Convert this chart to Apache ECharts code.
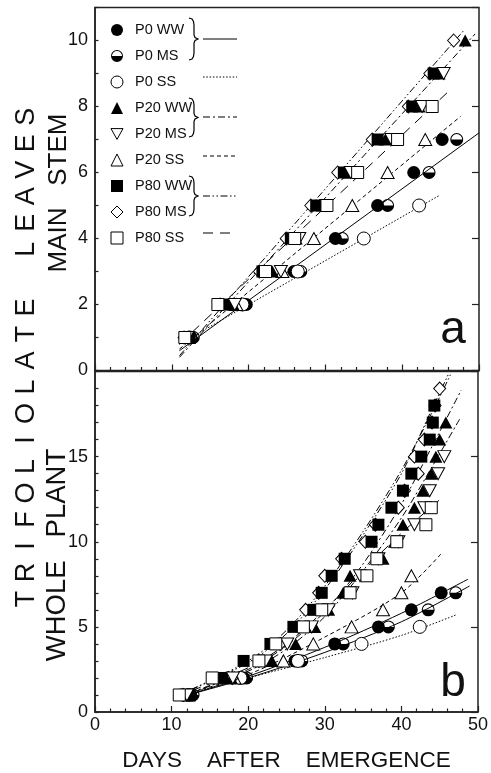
<!DOCTYPE html>
<html>
<head>
<meta charset="utf-8">
<title>Trifoliolate leaves</title>
<script src="https://cdn.jsdelivr.net/npm/echarts@6/dist/echarts.min.js"></script>
<style>
  html, body { margin: 0; padding: 0; background: #fff; }
  #chart { width: 491px; height: 773px; }
</style>
</head>
<body>
<div id="chart"></div>
<script>
// treatments, in legend order
var names = ['P0 WW', 'P0 MS', 'P0 SS', 'P20 WW', 'P20 MS', 'P20 SS', 'P80 WW', 'P80 MS', 'P80 SS'];

// axis ticks
var dayTicks = [0, 10, 20, 30, 40, 50];
var stemTicks = [0, 2, 4, 6, 8, 10];
var plantTicks = [0, 5, 10, 15];

// panel a: main stem leaves, [day, leaves]
var aP0WW = [[12.5,1],[19.7,2],[25.9,3],[31.3,4],[36.8,5],[41.5,6],[45.2,7]];
var aP0MS = [[12.8,1],[19.4,2],[26.8,3],[32.2,4],[38.1,5],[43.5,6],[47.1,7]];
var aP0SS = [[12.3,1],[19.2,2],[26.4,3],[35.0,4],[42.2,5]];
var aP20WW = [[12.0,1],[18.0,2],[23.1,3],[26.2,4],[29.6,5],[33.0,6],[37.8,7],[42.2,8],[44.8,9],[48.2,10]];
var aP20MS = [[12.0,1],[18.2,2],[24.2,3],[26.6,4],[30.1,5],[33.3,6],[38.6,7],[42.6,8],[45.4,9]];
var aP20SS = [[12.2,1],[18.4,2],[24.4,3],[28.5,4],[33.5,5],[38.1,6],[43.0,7]];
var aP80WW = [[12.3,1],[17.5,2],[21.8,3],[25.5,4],[28.8,5],[32.4,6],[36.8,7],[41.3,8],[44.1,9]];
var aP80MS = [[11.6,1],[16.3,2],[21.4,3],[24.9,4],[28.1,5],[31.6,6],[36.1,7],[40.8,8],[43.6,9],[46.7,10]];
var aP80SS = [[11.7,1],[16.0,2],[22.2,3],[26.0,4],[30.2,5],[34.2,6],[39.4,7],[43.9,8]];

// panel a fitted lines
var aFitP0 = [[11,0.6],[50,7.2]];
var aFitP0SS = [[11,0.8],[44.8,5.3]];
var aFitP20 = [[11,0.4],[49.5,10.2]];
var aFitP20SS = [[11,0.65],[47.6,7.7]];
var aFitP80 = [[11,0.45],[48,10.3]];
var aFitP80SS = [[11,0.8],[46,8.45]];

// panel b: whole plant leaves, [day, leaves]
var bP0WW = [[12.5,1],[19.4,2],[26.1,3],[31.3,4],[37.0,5],[41.3,6],[45.2,7]];
var bP0MS = [[12.8,1],[19.8,2],[27.0,3],[32.4,4],[38.3,5],[43.5,6],[47.1,7]];
var bP0SS = [[12.2,1],[19.0,2],[26.5,3],[34.8,4],[42.4,5]];
var bP20WW = [[12.0,1],[17.8,2],[23.1,3],[26.2,4],[28.7,5],[30.5,6],[32.4,7],[33.3,8],[37.6,9],[39.1,10],[40.2,11],[41.7,12],[42.8,13],[43.9,14],[44.5,15],[45.0,16],[45.8,17]];
var bP20MS = [[12.0,1],[18.0,2],[22.3,3],[25.1,4],[28.3,5],[30.5,6],[33.6,7],[34.6,8],[37.0,9],[39.6,10],[41.7,11],[43.0,12],[43.7,13],[44.8,14],[45.6,15]];
var bP20SS = [[12.2,1],[18.2,2],[24.6,3],[28.5,4],[33.5,5],[37.6,6],[40.0,7],[41.3,8]];
var bP80WW = [[12.3,1],[16.6,2],[19.4,3],[22.9,4],[25.9,5],[28.5,6],[29.6,7],[30.9,8],[32.6,9],[36.1,10],[37.0,11],[38.7,12],[40.2,13],[41.3,14],[42.6,15],[43.7,16],[44.1,17],[44.3,18]];
var bP80MS = [[11.5,1],[17.9,2],[21.4,3],[24.2,4],[26.6,5],[27.5,6],[29.2,7],[30.0,8],[32.2,9],[35.3,10],[36.6,11],[39.6,12],[40.4,13],[42.2,14],[41.7,15],[43.0,16],[44.0,17],[44.4,18],[45.0,19]];
var bP80SS = [[11.0,1],[15.3,2],[21.4,3],[23.6,4],[27.2,5],[29.6,6],[33.3,7],[35.5,8],[36.8,9],[39.4,10],[43.2,11],[43.9,12]];

// panel b fitted curves
var bFitP0WW = [[10.5,0.8],[20,2.1],[30,3.8],[40,5.8],[48.7,7.8]];
var bFitP0MS = [[10.5,0.8],[20,2.0],[30,3.5],[40,5.3],[48.9,7.4]];
var bFitP0SS = [[10.5,0.9],[20,2.0],[30,3.2],[40,4.5],[47.1,5.7]];
var bFitP20WW = [[10.5,0.8],[20,2.5],[25,3.9],[30,5.9],[35,8.7],[40,12.2],[44,15.6],[47.8,18.9]];
var bFitP20MS = [[10.5,0.8],[20,2.4],[25,3.7],[30,5.6],[35,8.3],[40,11.4],[44,14.4],[47.6,17.2]];
var bFitP20SS = [[10.5,0.9],[20,2.2],[30,4.4],[40,7.0],[45.2,9.3]];
var bFitP80WW = [[10.5,0.9],[20,3.0],[25,4.8],[30,7.4],[35,10.6],[40,14.2],[44,17.6],[46.5,19.9]];
var bFitP80MS = [[10.5,0.9],[20,2.9],[25,4.6],[30,7.2],[35,10.4],[40,14.0],[44,17.8],[46.2,19.9]];
var bFitP80SS = [[10.5,0.9],[20,2.6],[25,4.0],[30,6.0],[35,8.3],[40,10.5],[45.6,12.7]];

var FONT = '"Liberation Sans", Arial, Helvetica, sans-serif';
var INK = '#111';

var HALF = 'path://M0,10A10,10,0,0,1,20,10L18.4,10A8.4,8.4,0,0,0,1.6,10ZM0,10A10,10,0,0,0,20,10Z';
var INV = 'path://M0,0L20,0L10,18Z';
var symbols = {
	'P0 WW': 'circle', 'P0 MS': HALF, 'P0 SS': 'circle',
	'P20 WW': 'triangle', 'P20 MS': INV, 'P20 SS': 'triangle',
	'P80 WW': 'rect', 'P80 MS': 'diamond', 'P80 SS': 'rect'
};
var sizes = {
	'P0 WW': 13, 'P0 MS': 13, 'P0 SS': 13,
	'P20 WW': [13,12], 'P20 MS': [13,12], 'P20 SS': [13,12],
	'P80 WW': 12, 'P80 MS': [12,13], 'P80 SS': 12
};
var filled = { color: '#000', borderWidth: 0, opacity: 1 };
var open = { color: '#fff', borderColor: '#000', borderWidth: 1, opacity: 1 };
var styles = {
	'P0 WW': filled, 'P0 MS': filled, 'P0 SS': open,
	'P20 WW': filled, 'P20 MS': open, 'P20 SS': open,
	'P80 WW': filled, 'P80 MS': open, 'P80 SS': open
};

var DOT = [1.5, 1.8];
var DASHDOT = [7, 3, 2, 3];
var DASH = [4, 3];
var DASHDOTDOT = [7, 2.5, 1.5, 2.5, 1.5, 2.5];
var LONGDASH = [10, 7];

function scatter(name, data, panel, z2) {
	return {
		name: name, type: 'scatter', data: data,
		xAxisIndex: panel, yAxisIndex: panel * 2,
		symbol: symbols[name], symbolSize: sizes[name],
		itemStyle: styles[name], z: 3 + z2 * 0.01, silent: true
	};
}
function fit(data, panel, dash, smooth) {
	return {
		type: 'line', data: data, xAxisIndex: panel, yAxisIndex: panel * 2,
		showSymbol: false, symbol: 'none', smooth: smooth ? 0.3 : false,
		silent: true, z: 1,
		lineStyle: { color: '#000', width: 1, type: dash, opacity: 1 }
	};
}

// draw order (bottom to top) as in the figure
var topData = {
	'P0 WW': aP0WW, 'P0 MS': aP0MS, 'P0 SS': aP0SS, 'P20 WW': aP20WW, 'P20 MS': aP20MS,
	'P20 SS': aP20SS, 'P80 WW': aP80WW, 'P80 MS': aP80MS, 'P80 SS': aP80SS
};
var botData = {
	'P0 WW': bP0WW, 'P0 MS': bP0MS, 'P0 SS': bP0SS, 'P20 WW': bP20WW, 'P20 MS': bP20MS,
	'P20 SS': bP20SS, 'P80 WW': bP80WW, 'P80 MS': bP80MS, 'P80 SS': bP80SS
};
var order = ['P0 WW', 'P0 MS', 'P0 SS', 'P20 SS', 'P80 MS', 'P80 WW', 'P20 WW', 'P20 MS', 'P80 SS'];

var series = [
	fit(aFitP0, 0, 'solid'), fit(aFitP0SS, 0, DOT), fit(aFitP20, 0, DASHDOT),
	fit(aFitP20SS, 0, DASH), fit(aFitP80, 0, DASHDOTDOT), fit(aFitP80SS, 0, LONGDASH),
	fit(bFitP0WW, 1, 'solid', true), fit(bFitP0MS, 1, 'solid', true), fit(bFitP0SS, 1, DOT, true),
	fit(bFitP20WW, 1, DASHDOT, true), fit(bFitP20MS, 1, DASHDOT, true), fit(bFitP20SS, 1, DASH, true),
	fit(bFitP80WW, 1, DASHDOTDOT, true), fit(bFitP80MS, 1, DASHDOTDOT, true), fit(bFitP80SS, 1, LONGDASH, true)
];
order.forEach(function (n, i) { series.push(scatter(n, topData[n], 0, i)); });
order.forEach(function (n, i) { series.push(scatter(n, botData[n], 1, i)); });

function xAxis(grid, showLabel) {
	return {
		type: 'value', gridIndex: grid, min: 0, max: 50, interval: 10,
		axisLine: { lineStyle: { color: '#222', width: 1.5 } },
		axisTick: { inside: true, length: 6, lineStyle: { color: '#222', width: 1.2 } },
		minorTick: { show: true, splitNumber: 5, length: 3.5, lineStyle: { color: '#222', width: 1.2 } },
		splitLine: { show: false },
		axisLabel: {
			show: showLabel, fontSize: 18, fontFamily: FONT, color: INK, margin: 4,
			formatter: function (v) { return dayTicks.indexOf(v) >= 0 ? String(v) : ''; }
		},
		name: showLabel ? 'DAYS    AFTER    EMERGENCE' : '',
		nameLocation: 'middle', nameGap: 37,
		nameTextStyle: { fontSize: 22.5, fontFamily: FONT, color: INK }
	};
}
function yAxis(grid, max, ticks) {
	return {
		type: 'value', gridIndex: grid, min: 0, max: max, interval: 1,
		axisLine: { show: true, lineStyle: { color: '#222', width: 1.5 } },
		axisTick: { show: true, inside: true, length: 3.5, lineStyle: { color: '#222', width: 1.2 } },
		splitLine: { show: false },
		axisLabel: {
			fontSize: 18, fontFamily: FONT, color: INK, margin: 7,
			formatter: function (v) { return ticks.indexOf(v) >= 0 ? String(v) : ''; }
		}
	};
}
function majorTicks(grid, max, step) {
	return {
		type: 'value', gridIndex: grid, min: 0, max: max, interval: step,
		axisLine: { show: false }, axisLabel: { show: false }, splitLine: { show: false },
		axisTick: { show: true, inside: true, length: 7, lineStyle: { color: '#222', width: 1.2 } }
	};
}

// decorations: spaced axis title, braces and legend line keys
var graphic = [];
var title = 'TRIFOLIOLATE LEAVES';
var ty = 599;
for (var i = 0; i < title.length; i++) {
	var ch = title.charAt(i);
	if (ch === ' ') { ty -= 26.5 * 1.2; continue; }
	graphic.push({ type: 'text', x: 27, y: ty, rotation: Math.PI / 2, silent: true,
		style: { text: ch, fontSize: 27, fontFamily: FONT, fill: INK, align: 'center', verticalAlign: 'middle' } });
	ty -= 26.5;
}
graphic.push({ type: 'text', x: 59, y: 193, rotation: Math.PI / 2, silent: true,
	style: { text: 'MAIN   STEM', fontSize: 26, fontFamily: FONT, fill: INK, align: 'center', verticalAlign: 'middle' } });
graphic.push({ type: 'text', x: 57, y: 555, rotation: Math.PI / 2, silent: true,
	style: { text: 'WHOLE   PLANT', fontSize: 27.5, fontFamily: FONT, fill: INK, align: 'center', verticalAlign: 'middle' } });
graphic.push({ type: 'text', x: 453, y: 330, silent: true,
	style: { text: 'a', fontSize: 46, fontFamily: FONT, fill: INK, align: 'center', verticalAlign: 'middle' } });
graphic.push({ type: 'text', x: 453, y: 683, silent: true,
	style: { text: 'b', fontSize: 46, fontFamily: FONT, fill: INK, align: 'center', verticalAlign: 'middle' } });

function brace(x, y1, y2) {
	var m = (y1 + y2) / 2;
	return { type: 'polyline', silent: true,
		shape: { points: [[x,y1],[x+3,y1+1],[x+4.5,y1+3.5],[x+5,y1+7],[x+5,m-4],[x+6,m-1.5],[x+9,m],
			[x+6,m+1.5],[x+5,m+4],[x+5,y2-7],[x+4.5,y2-3.5],[x+3,y2-1],[x,y2]] },
		style: { stroke: '#000', lineWidth: 1.2, fill: null } };
}
function key(y, dash) {
	return { type: 'line', silent: true, shape: { x1: 203, y1: y, x2: 237, y2: y },
		style: { stroke: '#000', lineWidth: 1.1, lineDash: dash === 'solid' ? null : dash } };
}
graphic.push(brace(189, 18, 60), brace(189, 98, 137), brace(189, 176, 216));
graphic.push(key(39, 'solid'), key(77, DOT), key(117, DASHDOT), key(156, DASH), key(196, DASHDOTDOT), key(233, LONGDASH));

var chart = echarts.init(document.getElementById('chart'), null, { renderer: 'canvas' });
chart.setOption({
	backgroundColor: '#fff',
	animation: false,
	grid: [
		{ left: 95, top: 7.5, width: 384, height: 363, show: true, borderColor: '#222', borderWidth: 1.5 },
		{ left: 95, top: 371.5, width: 384, height: 353.5, show: true, borderColor: '#222', borderWidth: 1.5 }
	],
	xAxis: [xAxis(0, false), xAxis(1, true)],
	yAxis: [yAxis(0, 11, stemTicks), majorTicks(0, 11, 2), yAxis(1, 20, plantTicks), majorTicks(1, 20, 5)],
	legend: {
		orient: 'vertical', left: 105.5, top: 17.5, itemWidth: 12, itemHeight: 12, itemGap: 11,
		selectedMode: false,
		textStyle: { fontSize: 14.5, fontFamily: FONT, color: INK, lineHeight: 15, padding: [0, 0, 0, 7] },
		data: names.map(function (n) {
			return { name: n, icon: symbols[n], itemStyle: styles[n] };
		})
	},
	graphic: graphic,
	series: series
});
</script>
</body>
</html>
